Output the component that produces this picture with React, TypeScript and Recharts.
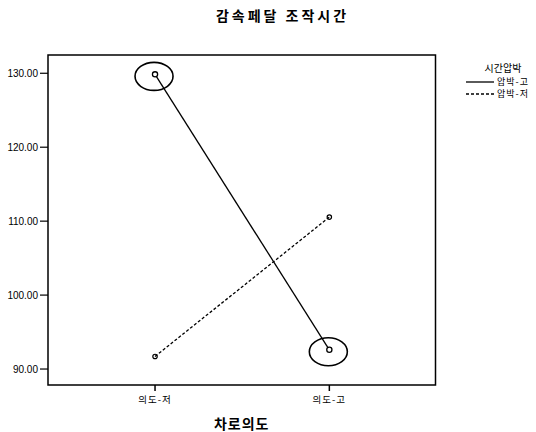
import React from 'react';
import { LineChart, Line, XAxis, YAxis, Legend, ReferenceArea, Label } from 'recharts';

const categories = ['의도-저', '의도-고'];
const seriesNames = ['압박-고', '압박-저'];
const highValues = [129.85, 92.6];
const lowValues = [91.7, 110.55];
const yTicks = [90, 100, 110, 120, 130];

const X_DOMAIN: [number, number] = [0.386, 2.609];
const Y_DOMAIN: [number, number] = [87.84, 132.47];

const data = categories.map((c, i) => ({ x: i + 1, label: c, high: highValues[i], low: lowValues[i] }));

const FONT = '"Noto Sans CJK KR", "Noto Sans", sans-serif';

const HighDot = (props: any) => {
  const { cx, cy } = props;
  if (cx == null || cy == null) return null;
  return (
    <g>
      <ellipse cx={cx - 1} cy={cy + 2} rx={19} ry={14} fill="none" stroke="#000" strokeWidth={1.6} />
      <circle cx={cx} cy={cy} r={2.6} fill="#fff" stroke="#000" strokeWidth={1.3} />
    </g>
  );
};

const LowDot = (props: any) => {
  const { cx, cy } = props;
  if (cx == null || cy == null) return null;
  return <circle cx={cx} cy={cy} r={2.2} fill="none" stroke="#000" strokeWidth={1.2} />;
};

const LegendContent = (props: any) => {
  const payload = props.payload || [];
  return (
    <div style={{ fontFamily: FONT, color: '#000' }}>
      <div style={{ textAlign: 'center', fontSize: 10, height: 13, lineHeight: '13px', paddingLeft: 4, marginBottom: 2 }}>시간압박</div>
      {payload.map((p: any, i: number) => (
        <div key={i} style={{ display: 'flex', alignItems: 'center', height: 11, marginBottom: 1 }}>
          <svg width={30} height={6} style={{ marginRight: 1, flex: 'none' }}>
            <line x1={0} y1={3} x2={28} y2={3} stroke="#000" strokeWidth={1.3}
              strokeDasharray={p.payload && p.payload.strokeDasharray ? '3 2' : undefined} />
          </svg>
          <span style={{ fontSize: 9, lineHeight: '10px', letterSpacing: 1, color: '#000', whiteSpace: 'nowrap' }}>{p.value}</span>
        </div>
      ))}
    </div>
  );
};

export default function App() {
  return (
    <div style={{ position: 'absolute', left: 0, top: 0, width: 536, height: 432, background: '#fff' }}>
      <div style={{ position: 'absolute', left: 0, top: 5, width: 565, textAlign: 'center', fontFamily: FONT, fontWeight: 700, fontSize: 14, letterSpacing: 3 }}>
        감속페달 조작시간
      </div>
      <LineChart width={536} height={432} data={data} margin={{ top: 55, right: 100.5, left: 0, bottom: 0 }}>
        <XAxis dataKey="x" type="number" domain={X_DOMAIN} ticks={[1, 2]} allowDataOverflow
          tickFormatter={(v: number) => categories[v - 1] ?? ''}
          axisLine={false} tickSize={6} tickMargin={5} height={47}
          tick={{ fill: '#000', fontSize: 9.5, fontFamily: FONT, letterSpacing: 1 }} tickLine={{ stroke: '#000', strokeWidth: 1.5 }}>
          <Label value="차로의도" position="insideBottom" offset={3}
            style={{ fontFamily: FONT, fontSize: 14, fontWeight: 700, fill: '#000', letterSpacing: 1 }} />
        </XAxis>
        <YAxis type="number" domain={Y_DOMAIN} ticks={yTicks} allowDataOverflow width={48}
          tickFormatter={(v: number) => v.toFixed(2)} axisLine={false} tickSize={8} tickMargin={2}
          tick={{ fill: '#000', fontSize: 10, fontFamily: 'Arial, "Liberation Sans", sans-serif' }}
          tickLine={{ stroke: '#000', strokeWidth: 1.2 }} />
        <ReferenceArea x1={X_DOMAIN[0]} x2={X_DOMAIN[1]} y1={Y_DOMAIN[0]} y2={Y_DOMAIN[1]}
          fill="none" fillOpacity={0} stroke="#000" strokeWidth={1.5} ifOverflow="visible" />
        <Legend layout="vertical" align="center" verticalAlign="middle" content={LegendContent}
          wrapperStyle={{ left: 466, top: 61, width: 70, height: 42 }} />
        <Line dataKey="high" name={seriesNames[0]} stroke="#000" strokeWidth={1.3} dot={HighDot}
          activeDot={false} isAnimationActive={false} />
        <Line dataKey="low" name={seriesNames[1]} stroke="#000" strokeWidth={1.3} strokeDasharray="3 2"
          dot={LowDot} activeDot={false} isAnimationActive={false} />
      </LineChart>
    </div>
  );
}
